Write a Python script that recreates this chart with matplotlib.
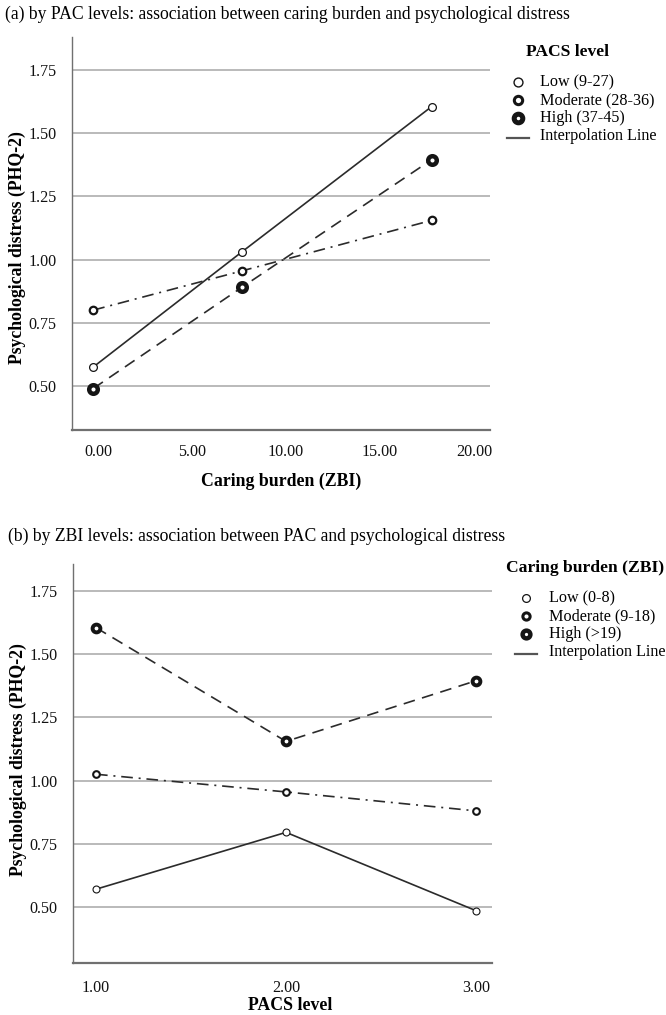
import matplotlib
matplotlib.use("Agg")
import matplotlib.pyplot as plt
from matplotlib.lines import Line2D

plt.rcParams['font.family'] = ['Liberation Serif', 'DejaVu Serif']

# ---------------- data ----------------
# Panel (a): x = caring burden (ZBI) group means, one series per PACS level
zbi_x = [-0.25, 7.65, 17.75]
pacs_groups = ["Low (9-27)", "Moderate (28-36)", "High (37-45)"]
pacs_low = [0.575, 1.03, 1.605]
pacs_mod = [0.80, 0.955, 1.155]
pacs_high = [0.49, 0.89, 1.395]

# Panel (b): x = PACS level, one series per ZBI level
pacs_x = [1.0, 2.0, 3.0]
zbi_groups = ["Low (0-8)", "Moderate (9-18)", "High (>19)"]
zbi_low = [0.57, 0.795, 0.485]
zbi_mod = [1.025, 0.955, 0.88]
zbi_high = [1.605, 1.155, 1.395]

yticks = [0.50, 0.75, 1.00, 1.25, 1.50, 1.75]
xticks_a = [0, 5, 10, 15, 20]
xticks_b = [1, 2, 3]

# ---------------- styling ----------------
W, H = 666, 1015
LC = "#2b2b2b"
EC = "#151515"
GRID = "#b4b4b4"
SPINE = "#707070"
dash = (0, (7, 4.5))
dashdot = (0, (7, 3.5, 1.2, 3.5))

marker_a = [dict(ms=5.6, mew=0.9), dict(ms=5.4, mew=1.6), dict(ms=6.2, mew=3.2)]
marker_b = [dict(ms=5.0, mew=0.8), dict(ms=4.8, mew=1.5), dict(ms=5.6, mew=2.8)]
leg_marker_a = [dict(ms=6.4, mew=1.0), dict(ms=6.0, mew=2.2), dict(ms=6.2, mew=3.6)]
leg_marker_b = [dict(ms=5.6, mew=0.9), dict(ms=5.2, mew=2.2), dict(ms=5.6, mew=3.2)]
styles = ["-", dashdot, dash]

fig = plt.figure(figsize=(W / 100, H / 100), dpi=100)

def fx(x):
    return x / W

def fy(y):
    return 1 - y / H

def style_axes(ax):
    for s in ["top", "right"]:
        ax.spines[s].set_visible(False)
    ax.spines["left"].set_color(SPINE)
    ax.spines["bottom"].set_color(SPINE)
    ax.spines["left"].set_linewidth(1.0)
    ax.spines["bottom"].set_linewidth(1.6)
    ax.set_yticks(yticks)
    ax.set_yticklabels([f"{v:.2f}" for v in yticks])
    ax.yaxis.grid(True, color=GRID, linewidth=1.3)
    ax.set_axisbelow(True)
    ax.tick_params(axis="both", length=0, labelsize=11.6, colors="#111111")
    ax.tick_params(axis="y", pad=11)

def manual_legend(title, labels, mstyles, title_x, title_y, mx, tx, rows):
    fig.text(fx(title_x), fy(title_y), title, fontsize=12.6, fontweight="bold",
             ha="center", va="center")
    for lab, ms, ry in zip(labels, mstyles, rows[:3]):
        fig.add_artist(Line2D([fx(mx)], [fy(ry)], transform=fig.transFigure,
                              linestyle="none", marker="o", markerfacecolor="white",
                              markeredgecolor=EC, **ms))
        fig.text(fx(tx), fy(ry), lab, fontsize=11.6, ha="left", va="center")
    ry = rows[3]
    fig.add_artist(Line2D([fx(mx - 11), fx(mx + 11)], [fy(ry + 2), fy(ry + 2)],
                          transform=fig.transFigure, color="#555555", linewidth=1.6))
    fig.text(fx(tx), fy(ry), "Interpolation Line", fontsize=11.6, ha="left", va="center")

# ---------------- panel (a) ----------------
axa = fig.add_axes([fx(72), fy(430), 418 / W, 393 / H])
for ys, st, ms in zip([pacs_low, pacs_mod, pacs_high], styles, marker_a):
    axa.plot(zbi_x, ys, linestyle=st, color=LC, linewidth=1.2, marker="o",
             markerfacecolor="white", markeredgecolor=EC, **ms)
style_axes(axa)
axa.set_xticks(xticks_a)
axa.set_xticklabels([f"{v:.2f}" for v in xticks_a])
axa.tick_params(axis="x", pad=10)
axa.set_xlim(-1.38, 20.85)
axa.set_ylim(0.326, 1.88)
axa.set_xlabel("Caring burden (ZBI)", fontsize=12.8, fontweight="bold", labelpad=9)
axa.set_ylabel("Psychological distress (PHQ-2)", fontsize=12.8, fontweight="bold")
axa.yaxis.set_label_coords(-0.11, 0.463)
fig.text(fx(5), fy(14), "(a) by PAC levels: association between caring burden and psychological distress",
         fontsize=12.7, ha="left", va="center")
manual_legend("PACS level", pacs_groups, leg_marker_a, 568, 52, 518, 540, [82, 100, 118, 136])

# ---------------- panel (b) ----------------
axb = fig.add_axes([fx(73), fy(963), 419 / W, 399 / H])
for ys, st, ms in zip([zbi_low, zbi_mod, zbi_high], styles, marker_b):
    axb.plot(pacs_x, ys, linestyle=st, color=LC, linewidth=1.2, marker="o",
             markerfacecolor="white", markeredgecolor=EC, **ms)
style_axes(axb)
axb.set_xticks(xticks_b)
axb.set_xticklabels([f"{v:.2f}" for v in xticks_b])
axb.tick_params(axis="x", pad=12)
axb.set_xlim(0.879, 3.084)
axb.set_ylim(0.278, 1.857)
axb.set_xlabel("PACS level", fontsize=12.8, fontweight="bold", labelpad=3)
axb.xaxis.set_label_coords(0.518, -0.085)
axb.set_ylabel("Psychological distress (PHQ-2)", fontsize=12.8, fontweight="bold")
axb.yaxis.set_label_coords(-0.11, 0.51)
fig.text(fx(8), fy(536), "(b) by ZBI levels: association between PAC and psychological distress",
         fontsize=12.7, ha="left", va="center")
manual_legend("Caring burden (ZBI)", zbi_groups, leg_marker_b, 585, 568, 526, 549, [598, 616, 634, 652])

fig.savefig("out.png", dpi=100, facecolor="white")
